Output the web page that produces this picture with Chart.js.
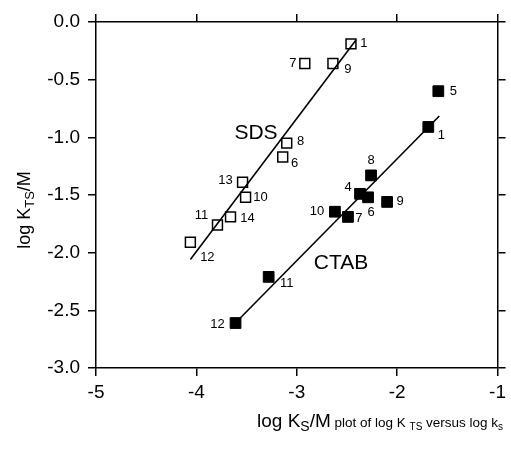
<!DOCTYPE html>
<html>
<head>
<meta charset="utf-8">
<script src="https://cdn.jsdelivr.net/npm/chart.js@4/dist/chart.umd.min.js"></script>
<style>
html,body{margin:0;padding:0;background:#fff;}
canvas{display:block;}
</style>
</head>
<body>
<canvas id="c" width="511" height="449"></canvas>
<script>
// ---- data ----
const sdsIds  = ['1','9','7','8','6','13','10','14','11','12'];
const sdsX    = [-2.46,-2.64,-2.92,-3.10,-3.14,-3.54,-3.51,-3.66,-3.79,-4.06];
const sdsY    = [-0.19,-0.36,-0.36,-1.05,-1.17,-1.39,-1.52,-1.69,-1.76,-1.91];
const ctabIds = ['5','1','8','4','6','9','10','7','11','12'];
const ctabX   = [-1.59,-1.69,-2.26,-2.37,-2.29,-2.10,-2.62,-2.49,-3.28,-3.61];
const ctabY   = [-0.60,-0.91,-1.33,-1.49,-1.52,-1.56,-1.645,-1.69,-2.21,-2.61];
const sdsFitX  = [-4.06,-2.41];
const sdsFitY  = [-2.06,-0.156];
const ctabFitX = [-3.59,-1.58];
const ctabFitY = [-2.59,-0.815];
const xTicks = [-5,-4,-3,-2,-1];
const yTicks = [0,-0.5,-1,-1.5,-2,-2.5,-3];

// ---- label placement (style, pixels) ----
const sdsLabelOffset = {'1':[13,0],'9':[15,6],'7':[-12,0],'8':[14,-2],'6':[12,6],'13':[-17,-2],'10':[15,0],'14':[17,2],'11':[-16,-10],'12':[17,15]};
const ctabLabelOffset = {'5':[15,0],'1':[13,8],'8':[0,-15],'4':[-12,-6],'6':[3,15],'9':[13,0],'10':[-18,0],'7':[11,2],'11':[18,7],'12':[-18,1]};

const pts = (xs, ys) => xs.map((x,i)=>({x:x, y:ys[i]}));
const FONT = '"Liberation Sans", Arial, Helvetica, sans-serif';

const labelPlugin = {
  id: 'labels',
  afterDatasetsDraw(chart) {
    const ctx = chart.ctx;
    ctx.save();
    ctx.fillStyle = '#000';
    ctx.textAlign = 'center';
    ctx.textBaseline = 'middle';
    ctx.font = '13px ' + FONT;
    const sets = [[2, sdsIds, sdsLabelOffset], [3, ctabIds, ctabLabelOffset]];
    sets.forEach(([di, ids, off]) => {
      const meta = chart.getDatasetMeta(di);
      meta.data.forEach((el, i) => {
        const o = off[ids[i]] || [12, 0];
        ctx.fillText(ids[i], el.x + o[0], el.y + o[1]);
      });
    });
    // series names
    ctx.font = '21px ' + FONT;
    ctx.fillText('SDS', 256, 133);
    ctx.fillText('CTAB', 341, 263);
    ctx.restore();
  },
  afterDraw(chart) {
    const ctx = chart.ctx;
    ctx.save();
    ctx.fillStyle = '#000';
    ctx.textBaseline = 'alphabetic';
    ctx.textAlign = 'left';
    // x title
    let x = 257, base = 427;
    const seg = (t, size, dy) => { ctx.font = size + 'px ' + FONT; ctx.fillText(t, x, base + dy); x += ctx.measureText(t).width; };
    seg('log K', 19, 0);
    seg('S', 14, 4);
    seg('/M', 19, 0);
    seg(' plot of log K ', 13.5, 0);
    seg('TS', 10, 3);
    seg(' versus log k', 13.5, 0);
    seg('s', 10, 3);
    // y title (rotated)
    ctx.translate(30, 210);
    ctx.rotate(-Math.PI / 2);
    const parts = [['log K', 18, 0], ['TS', 13, 4], ['/M', 18, 0]];
    let w = 0;
    parts.forEach(p => { ctx.font = p[1] + 'px ' + FONT; w += ctx.measureText(p[0]).width; });
    let px = -w / 2;
    parts.forEach(p => { ctx.font = p[1] + 'px ' + FONT; ctx.fillText(p[0], px, p[2]); px += ctx.measureText(p[0]).width; });
    ctx.restore();
  }
};

const axisCommon = {
  grid: { display: true, drawOnChartArea: false, drawTicks: true, color: '#000', tickLength: 8, lineWidth: 1.5 },
  border: { display: true, color: '#000', width: 1.5 }
};

new Chart(document.getElementById('c'), {
  type: 'scatter',
  data: {
    datasets: [
      { label: 'SDS fit', data: pts(sdsFitX, sdsFitY), showLine: true, borderColor: '#000', borderWidth: 1.6, pointRadius: 0, fill: false, order: 3 },
      { label: 'CTAB fit', data: pts(ctabFitX, ctabFitY), showLine: true, borderColor: '#000', borderWidth: 1.6, pointRadius: 0, fill: false, order: 3 },
      { label: 'SDS', data: pts(sdsX, sdsY), pointStyle: 'rect', pointRadius: 7, pointBorderWidth: 1.5, borderColor: '#000', backgroundColor: 'rgba(0,0,0,0)', order: 1 },
      { label: 'CTAB', data: pts(ctabX, ctabY), pointStyle: 'rect', pointRadius: 7.6, pointBorderWidth: 1, borderColor: '#000', backgroundColor: '#000', order: 1 }
    ]
  },
  options: {
    responsive: false,
    animation: false,
    devicePixelRatio: 1,
    layout: { padding: 0 },
    plugins: { legend: { display: false }, tooltip: { enabled: false } },
    scales: {
      x: Object.assign({}, axisCommon, {
        type: 'linear', position: 'bottom', min: -5, max: -1,
        afterBuildTicks: s => { s.ticks = xTicks.map(v => ({ value: v })); },
        ticks: { color: '#000', padding: 5, font: { family: FONT, size: 19 }, callback: v => String(v) },
        afterFit: s => { s.height = 81; }
      }),
      y: Object.assign({}, axisCommon, {
        type: 'linear', position: 'left', min: -3, max: 0,
        afterBuildTicks: s => { s.ticks = yTicks.map(v => ({ value: v })); },
        ticks: { color: '#000', padding: 8, font: { family: FONT, size: 19 }, callback: v => Number(v).toFixed(1) },
        afterFit: s => { s.width = 96; }
      }),
      xTop: Object.assign({}, axisCommon, {
        type: 'linear', position: 'top', min: -5, max: -1,
        afterBuildTicks: s => { s.ticks = xTicks.map(v => ({ value: v })); },
        ticks: { display: false },
        afterFit: s => { s.height = 22; }
      }),
      yRight: Object.assign({}, axisCommon, {
        type: 'linear', position: 'right', min: -3, max: 0,
        afterBuildTicks: s => { s.ticks = yTicks.map(v => ({ value: v })); },
        ticks: { display: false },
        afterFit: s => { s.width = 11; }
      })
    }
  },
  plugins: [labelPlugin]
});
</script>
</body>
</html>
